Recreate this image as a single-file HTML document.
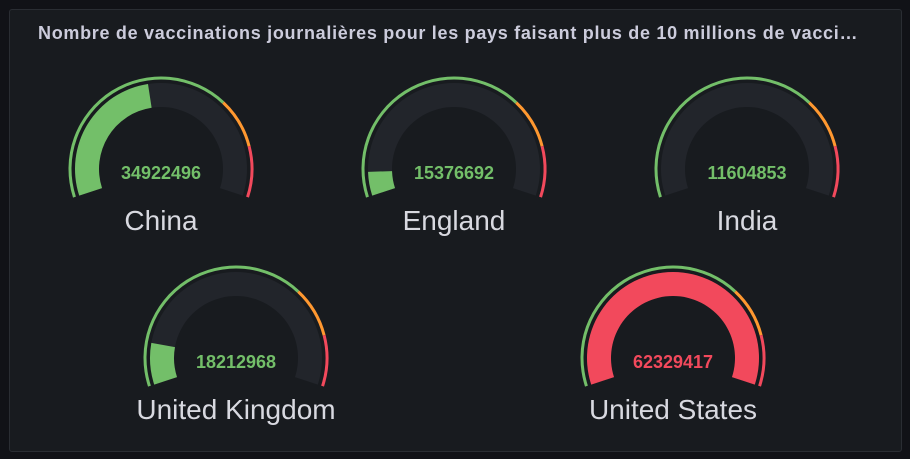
<!DOCTYPE html>
<html><head><meta charset="utf-8">
<style>
html,body{margin:0;padding:0;background:#111217;width:910px;height:459px;overflow:hidden;font-family:"Liberation Sans",sans-serif}
#panel{position:absolute;left:9px;top:9px;width:891px;height:441px;background:#181b1f;border:1px solid #2a2d33;border-radius:3px}
#title{position:absolute;left:28px;top:13px;font-size:18px;letter-spacing:0.7px;font-weight:bold;color:#ccccdc;white-space:nowrap}
svg{position:absolute;left:0;top:0}
</style></head><body>
<div id="panel">
<div id="title">Nombre de vaccinations journalières pour les pays faisant plus de 10 millions de vacci…</div>
</div>
<svg id="chart" width="910" height="459"></svg>
<script>
const countries = ["China","England","India","United Kingdom","United States"];
const values = [34922496,15376692,11604853,18212968,62329417];
const thresholdValues = [47100000,54700000];
const thresholdColors = ["#73BF69","#FF9830","#F2495C"];

const centers=[[161,169],[454,169],[747,169],[236,358],[673,358]];
const NS="http://www.w3.org/2000/svg";
const svg=document.getElementById('chart');
const minV=Math.min(...values), maxV=Math.max(...values);
const START=198, SPAN=216;
function frac(v){return Math.max(0,Math.min(1,(v-minV)/(maxV-minV)));}
function ang(f){return (START-f*SPAN)*Math.PI/180;}
function pt(cx,cy,r,a){return [cx+r*Math.cos(a),cy-r*Math.sin(a)];}
function arcPath(cx,cy,r1,r2,f1,f2){
  const a1=ang(f1),a2=ang(f2),large=(f2-f1)*SPAN>180?1:0;
  const p1=pt(cx,cy,r2,a1),p2=pt(cx,cy,r2,a2),p3=pt(cx,cy,r1,a2),p4=pt(cx,cy,r1,a1);
  return `M${p1[0]},${p1[1]} A${r2},${r2} 0 ${large} 1 ${p2[0]},${p2[1]} L${p3[0]},${p3[1]} A${r1},${r1} 0 ${large} 0 ${p4[0]},${p4[1]} Z`;
}
function colorFor(v){let c=thresholdColors[0];thresholdValues.forEach((t,i)=>{if(v>=t)c=thresholdColors[i+1];});return c;}
function mk(tag,attrs){const e=document.createElementNS(NS,tag);for(const k in attrs)e.setAttribute(k,attrs[k]);svg.appendChild(e);return e;}
countries.forEach((name,i)=>{
  const [cx,cy]=centers[i];
  const bounds=[0,...thresholdValues.map(frac),1];
  for(let j=0;j<3;j++){
    const seg=mk('path',{d:arcPath(cx,cy,89.5,92.5,bounds[j],bounds[j+1]),fill:thresholdColors[j]});
    
    
  }
  const track=mk('path',{d:arcPath(cx,cy,62,86,0,1),fill:'#22252b'});
  
  
  const f=frac(values[i]);
  const col=colorFor(values[i]);
  if(f>0.001){
    const bar=mk('path',{d:arcPath(cx,cy,62,86,0,f),fill:col});
    
    
  }
  const vt=mk('text',{x:cx,y:cy+10,'text-anchor':'middle',fill:col,'font-size':'18','font-weight':'bold','font-family':'Liberation Sans, sans-serif'});
  vt.textContent=values[i];
  
  
  const lt=mk('text',{x:cx,y:cy+61,'text-anchor':'middle',fill:'#d8d9e0','font-size':'28','font-family':'Liberation Sans, sans-serif'});
  lt.textContent=name;
  
  
});
</script>
</body></html>
